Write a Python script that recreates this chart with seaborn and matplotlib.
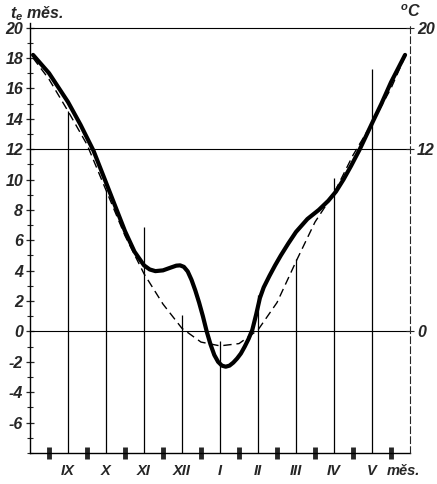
import matplotlib
matplotlib.use("Agg")
import matplotlib.pyplot as plt
import seaborn as sns
import pandas as pd

# ---- data ----
months = ["IX", "X", "XI", "XII", "I", "II", "III", "IV", "V"]
month_pos = [1, 2, 3, 4, 5, 6, 7, 8, 9]
month_means = [14.5, 9.3, 6.9, 1.1, -0.65, 2.4, 4.8, 10.1, 17.3]

thick_x = [0.08, 0.5, 1.0, 1.33, 1.67, 2.0, 2.25, 2.5, 2.75, 3.0, 3.15, 3.3, 3.5, 3.7,
           3.85, 3.95, 4.05, 4.15, 4.25, 4.35, 4.45, 4.55, 4.65, 4.75, 4.85, 4.95, 5.05,
           5.15, 5.25, 5.35, 5.45, 5.55, 5.65, 5.75, 5.85, 5.95, 6.05, 6.15, 6.3, 6.45,
           6.6, 6.8, 7.0, 7.3, 7.6, 7.85, 8.05, 8.25, 8.45, 8.68, 8.85, 9.02, 9.25, 9.5,
           9.87]
thick_y = [18.2, 17.0, 15.1, 13.6, 11.9, 9.8, 8.2, 6.6, 5.25, 4.35, 4.08, 3.97, 4.02, 4.2,
           4.33, 4.35, 4.25, 3.95, 3.4, 2.7, 1.9, 1.0, 0.0, -0.85, -1.55, -2.0, -2.25,
           -2.32, -2.25, -2.05, -1.78, -1.45, -1.0, -0.5, 0.1, 1.1, 2.2, 2.9, 3.65, 4.35,
           5.0, 5.8, 6.55, 7.4, 8.0, 8.6, 9.2, 10.0, 10.9, 12.0, 12.9, 13.8, 15.0, 16.4,
           18.2]

dash_x = [0.08, 0.5, 1.0, 1.5, 2.0, 2.5, 3.0, 3.5, 4.0, 4.5, 5.0, 5.5, 6.0, 6.5, 7.0,
          7.5, 8.0, 8.5, 9.0, 9.5, 9.87]
dash_y = [18.0, 16.6, 14.5, 12.3, 9.3, 6.3, 3.8, 1.8, 0.2, -0.7, -0.95, -0.8, 0.1, 1.9,
          4.6, 7.2, 9.1, 11.6, 13.7, 16.0, 18.1]

y_labels = [20, 18, 16, 14, 12, 10, 8, 6, 4, 2, 0, -2, -4, -6]
right_labels = [20, 12, 0]
ref_lines = [20, 12, 0]

# ---- drawing ----
sns.set_style("white")
plt.rcParams["font.family"] = ["Liberation Sans", "DejaVu Sans"]
plt.rcParams["mathtext.fontset"] = "custom"
plt.rcParams["mathtext.it"] = "Liberation Sans:italic:bold"
plt.rcParams["mathtext.rm"] = "Liberation Sans:italic:bold"

fig = plt.figure(figsize=(4.37, 4.84), dpi=100)
ax = fig.add_axes([30 / 437, 31 / 484, 380 / 437, 430 / 484])
ymin, ymax = -8, 20.3
ax.set_xlim(0, 10)
ax.set_ylim(ymin, ymax)

for v in ref_lines:
    ax.axhline(v, color="black", lw=0.8, zorder=1)

ax.vlines(month_pos, ymin, month_means, color="black", lw=0.9, zorder=2)

df_thick = pd.DataFrame({"x": thick_x, "y": thick_y})
df_dash = pd.DataFrame({"x": dash_x, "y": dash_y})
sns.lineplot(data=df_dash, x="x", y="y", ax=ax, color="black", lw=1.0,
             linestyle=(0, (6, 3.5)), sort=False, zorder=3)
sns.lineplot(data=df_thick, x="x", y="y", ax=ax, color="black", lw=3.0,
             sort=False, zorder=4, solid_capstyle="round", solid_joinstyle="round")

ax.set_xlabel("")
ax.set_ylabel("")

for s in ["top", "right"]:
    ax.spines[s].set_visible(False)
for s in ["left", "bottom"]:
    ax.spines[s].set_color("black")
    ax.spines[s].set_linewidth(1.0)

yfont = dict(fontsize=11.5, fontstyle="italic", fontweight="bold")
xfont = dict(fontsize=10.5, fontstyle="italic", fontweight="bold")

ax.set_yticks(y_labels)
ax.set_yticklabels([str(v) for v in y_labels], **yfont)
ax.set_yticks(list(range(-8, 21)), minor=True)
ax.tick_params(axis="y", which="major", direction="inout", length=6, width=0.9, pad=2, left=True)
ax.tick_params(axis="y", which="minor", direction="inout", length=4, width=0.8, left=True)

ax.set_xticks(month_pos + [9.82])
ax.set_xticklabels(months + ["měs."], **xfont)
ax.set_xticks([i + 0.5 for i in range(10)], minor=True)
ax.tick_params(axis="x", which="major", length=0, pad=8, bottom=True)
ax.tick_params(axis="x", which="minor", direction="inout", length=9, width=3.5, bottom=True)

ax2 = ax.twinx()
ax2.set_ylim(ymin, ymax)
for s in ["top", "left", "bottom"]:
    ax2.spines[s].set_visible(False)
ax2.spines["right"].set_linestyle((0, (6, 3)))
ax2.spines["right"].set_linewidth(0.8)
ax2.set_yticks(right_labels)
ax2.set_yticklabels([str(v) for v in right_labels], **yfont)
ax2.tick_params(axis="y", direction="inout", length=6, width=0.8, pad=2)

fig.text(10 / 437, 1 - 14 / 484, r"$t_e$ měs.", ha="left", va="center", **yfont)
fig.text(400 / 437, 1 - 12 / 484, r"$^o$C", ha="left", va="center", **yfont)

fig.savefig("out.png", dpi=100)
